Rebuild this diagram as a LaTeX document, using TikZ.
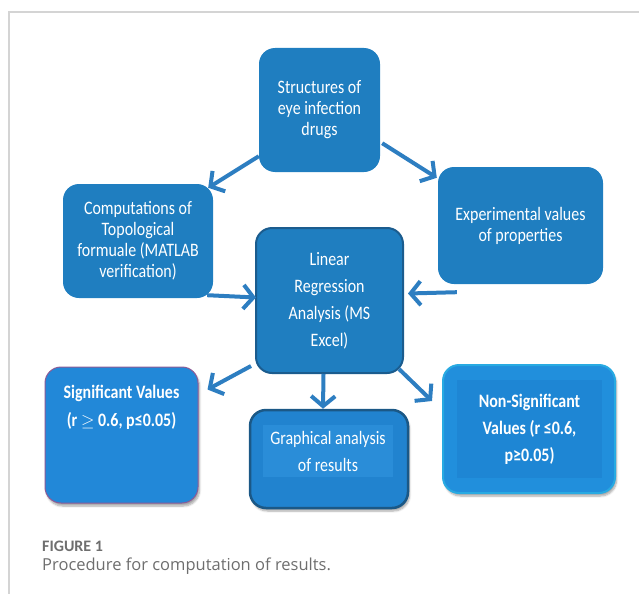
\documentclass[tikz,border=0pt]{standalone}
\usepackage{fontspec}
\setmainfont{Carlito}[FakeStretch=0.84]
\newfontfamily\figfont{Carlito}
\newfontfamily\capfont{Open Sans}
\usetikzlibrary{positioning,arrows.meta,shadows.blur}
\definecolor{boxblue}{RGB}{31,126,192}
\definecolor{arrowblue}{RGB}{45,126,193}
\definecolor{linedge}{RGB}{27,92,142}
\definecolor{sigfill}{RGB}{34,136,216}
\definecolor{sigedge}{RGB}{140,90,150}
\definecolor{graphfill}{RGB}{33,131,207}
\definecolor{graphedge}{RGB}{27,88,134}
\definecolor{graphinner}{RGB}{42,141,216}
\definecolor{nonfill}{RGB}{33,143,220}
\definecolor{nonedge}{RGB}{40,170,226}
\definecolor{noninner}{RGB}{30,134,212}
\definecolor{framegrey}{RGB}{212,212,212}
\definecolor{capgrey}{RGB}{110,110,110}
\tikzset{
  box/.style={rectangle, rounded corners=16pt, fill=boxblue, text=white, align=center,
    inner sep=0pt, font=\fontsize{19}{21}\selectfont},
  wide/.style={font=\fontsize{19}{27}\selectfont},
  shade/.style={blur shadow={shadow xshift=1.5pt, shadow yshift=-3pt, shadow opacity=35, shadow blur steps=6}},
  flow/.style={draw=arrowblue, line width=4pt, -{Straight Barb[length=10pt,width=24pt]}},
}

\begin{document}
\begin{tikzpicture}[x=1pt,y=-1pt]
  \useasboundingbox (0,0) rectangle (639,594);
  \draw [framegrey, line width=1.5pt] (639,12) -- (9,12) -- (9,594);

  \node [box, minimum width=121pt, minimum height=124pt] (struct) at (319.5,110)
    {Structures of\\eye infection\\drugs};
  \node [box, minimum width=150pt, minimum height=114pt] (comput) at (138,241)
    {Computations of\\Topological\\formuale (MATLAB\\verification)};
  \node [box, minimum width=165pt, minimum height=117pt] (exper) at (520.5,225.5)
    {Experimental values\\of properties};
  \node [box, wide, draw=linedge, line width=2pt, minimum width=147pt, minimum height=145pt] (linear) at (329.5,300.5)
    {Linear\\Regression\\Analysis (MS\\Excel)};

  \node [box, shade, fill=sigfill, draw=sigedge, line width=1pt, minimum width=153pt, minimum height=136pt] (signif) at (121.5,435) {};
  \node [text=white, align=center, inner sep=0pt, font=\bfseries\fontsize{19}{28}\selectfont,
    below=18pt of signif.north] (signiftxt) {Significant Values\\(r $\geq$ 0.6, p≤0.05)};

  \node [box, shade, fill=graphfill, draw=graphedge, line width=2.5pt, minimum width=158pt, minimum height=98pt] (graph) at (329,459) {};
  \node [fill=graphinner, text=white, align=center, inner sep=0pt, font=\fontsize{19}{27}\selectfont,
    minimum width=130pt, minimum height=52pt] (graphtxt) at (328,451) {Graphical analysis\\of results};

  \node [box, shade, fill=nonfill, draw=nonedge, line width=2pt, minimum width=172pt, minimum height=128pt] (nonsig) at (529,429) {};
  \node [fill=noninner, text=white, align=center, inner sep=0pt, font=\bfseries\fontsize{19}{27}\selectfont,
    minimum width=145pt, minimum height=98pt] (nonsigtxt) at (529.5,429) {Non-Significant\\Values (r ≤0.6,\\p≥0.05)};

  \draw [flow] ([yshift=16pt]struct.south west) -- ([xshift=-5pt,yshift=-4pt]comput.north east);
  \draw [flow] ([xshift=2pt,yshift=29pt]struct.south east) -- ([xshift=-1pt,yshift=-11pt]exper.north west);
  \draw [flow] ([xshift=19pt,yshift=-8pt]exper.south west) -- ([xshift=4pt,yshift=7pt]linear.east);
  \draw [flow] ([xshift=-6pt,yshift=3pt]comput.south east) -- ([xshift=1pt,yshift=3pt]linear.west);
  \draw [flow] ([xshift=-4pt,yshift=8pt]linear.south west) -- ([xshift=9pt,yshift=-23pt]signif.north east);
  \draw [flow] ([xshift=-6pt]linear.south) -- ([xshift=-6pt]graph.north);
  \draw [flow] ([xshift=-5pt,yshift=5pt]linear.south east) -- ([xshift=-10pt,yshift=-37pt]nonsig.north west);

  \node [anchor=west, inner sep=0pt, text=capgrey, font=\figfont\bfseries\fontsize{16}{18}\selectfont] (fig) at (42,546) {FIGURE 1};
  \node [anchor=west, inner sep=0pt, text=capgrey, font=\capfont\fontsize{16.5}{18}\selectfont] (caption) at (42,566) {Procedure for computation of results.};
\end{tikzpicture}
\end{document}
